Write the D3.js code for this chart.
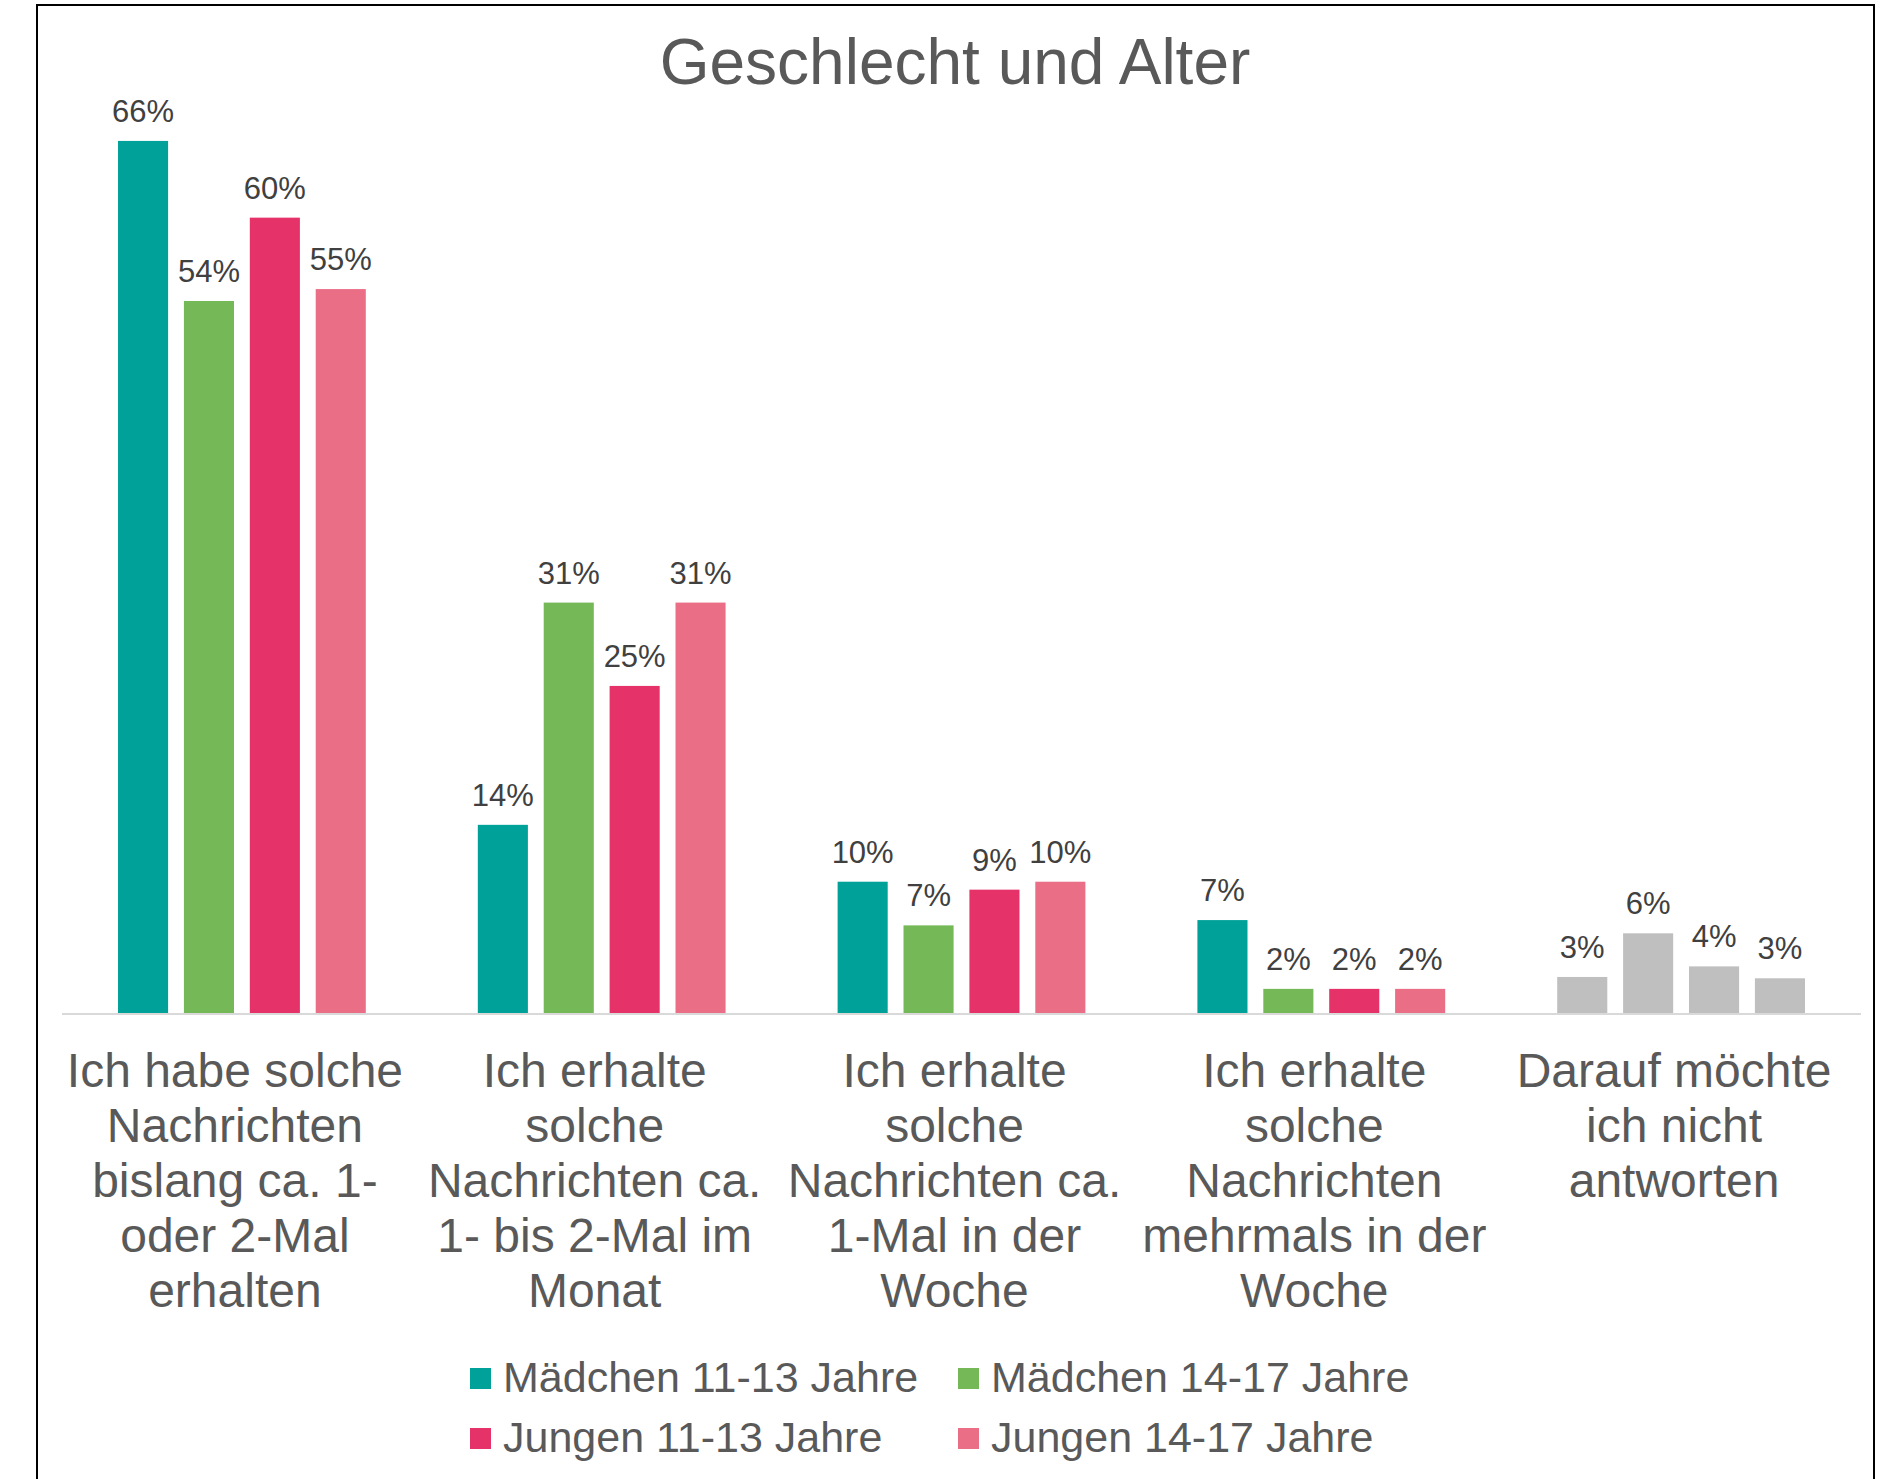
<!DOCTYPE html>
<html>
<head>
<meta charset="utf-8">
<script src="https://cdn.jsdelivr.net/npm/d3@7"></script>
<style>
  html, body { margin: 0; padding: 0; background: #ffffff; }
  svg { display: block; }
  text { font-family: "Liberation Sans", Arial, sans-serif; }
</style>
</head>
<body>
<svg id="chart" width="1880" height="1479"></svg>
<script>
// ---- Data ----
const title = "Geschlecht und Alter";
const categories = [
  "Ich habe solche\nNachrichten\nbislang ca. 1-\noder 2-Mal\nerhalten",
  "Ich erhalte\nsolche\nNachrichten ca.\n1- bis 2-Mal im\nMonat",
  "Ich erhalte\nsolche\nNachrichten ca.\n1-Mal in der\nWoche",
  "Ich erhalte\nsolche\nNachrichten\nmehrmals in der\nWoche",
  "Darauf möchte\nich nicht\nantworten"
];
const seriesNames = ["Mädchen 11-13 Jahre", "Mädchen 14-17 Jahre", "Jungen 11-13 Jahre", "Jungen 14-17 Jahre"];
const maedchen1113 = [0.660, 0.143, 0.100, 0.071, 0.028];
const maedchen1417 = [0.539, 0.311, 0.067, 0.019, 0.061];
const jungen1113   = [0.602, 0.248, 0.094, 0.019, 0.036];
const jungen1417   = [0.548, 0.311, 0.100, 0.019, 0.027];
const seriesValues = [maedchen1113, maedchen1417, jungen1113, jungen1417];
const seriesColors = ["#00A199", "#75B858", "#E53268", "#EA6E86"];
const neutralColor = "#BFBFBF"; // colour used for the "no answer" category

// ---- Layout ----
const svg = d3.select("#chart");
const baseY = 1014, topY = 88, left = 62, right = 1861;

svg.append("rect")
  .attr("x", 37).attr("y", 5)
  .attr("width", 1837).attr("height", 1600)
  .attr("fill", "none").attr("stroke", "#000").attr("stroke-width", 2);

svg.append("text")
  .attr("x", 955).attr("y", 84)
  .attr("text-anchor", "middle")
  .attr("font-size", 64).attr("fill", "#595959")
  .text(title);

const x0 = d3.scaleBand().domain(d3.range(categories.length)).range([left, right]).paddingInner(0).paddingOuter(0);
const x1 = d3.scaleBand().domain(d3.range(seriesNames.length)).range([0, x0.bandwidth()]).paddingInner(0.24).paddingOuter(0.85);
const y = d3.scaleLinear().domain([0, 0.7]).range([baseY, topY]);
const fmt = d3.format(".0%");

const flat = [];
seriesValues.forEach((vals, si) => vals.forEach((v, ci) => flat.push({si, ci, v})));

const g = svg.append("g");
g.selectAll("rect.bar").data(flat).join("rect")
  .attr("class", "bar")
  .attr("x", d => x0(d.ci) + x1(d.si))
  .attr("y", d => y(d.v))
  .attr("width", x1.bandwidth())
  .attr("height", d => y(0) - y(d.v))
  .attr("fill", d => d.ci === categories.length - 1 ? neutralColor : seriesColors[d.si]);

g.selectAll("text.lbl").data(flat).join("text")
  .attr("class", "lbl")
  .attr("x", d => x0(d.ci) + x1(d.si) + x1.bandwidth() / 2)
  .attr("y", d => y(d.v) - 19)
  .attr("text-anchor", "middle")
  .attr("font-size", 31).attr("fill", "#404040")
  .text(d => fmt(d.v));

// baseline
svg.append("line")
  .attr("x1", left).attr("x2", right)
  .attr("y1", y(0)).attr("y2", y(0))
  .attr("stroke", "#D9D9D9").attr("stroke-width", 2);

// category labels
const cat = svg.append("g").selectAll("text").data(categories).join("text")
  .attr("text-anchor", "middle")
  .attr("font-size", 48).attr("fill", "#595959")
  .attr("transform", (d, i) => `translate(${x0(i) + x0.bandwidth() / 2 - 7},1087)`);
cat.selectAll("tspan").data(d => d.split("\n")).join("tspan")
  .attr("x", 0).attr("y", (d, i) => i * 55)
  .text(d => d);

// legend
const legendPos = [[470, 1392], [958, 1392], [470, 1452], [958, 1452]];
const lg = svg.append("g").selectAll("g").data(seriesNames).join("g")
  .attr("transform", (d, i) => `translate(${legendPos[i][0]},${legendPos[i][1]})`);
lg.append("rect").attr("x", 0).attr("y", -24).attr("width", 21).attr("height", 21)
  .attr("fill", (d, i) => seriesColors[i]);
lg.append("text").attr("x", 33).attr("y", 0)
  .attr("font-size", 43).attr("fill", "#595959")
  .text(d => d);
</script>
</body>
</html>
